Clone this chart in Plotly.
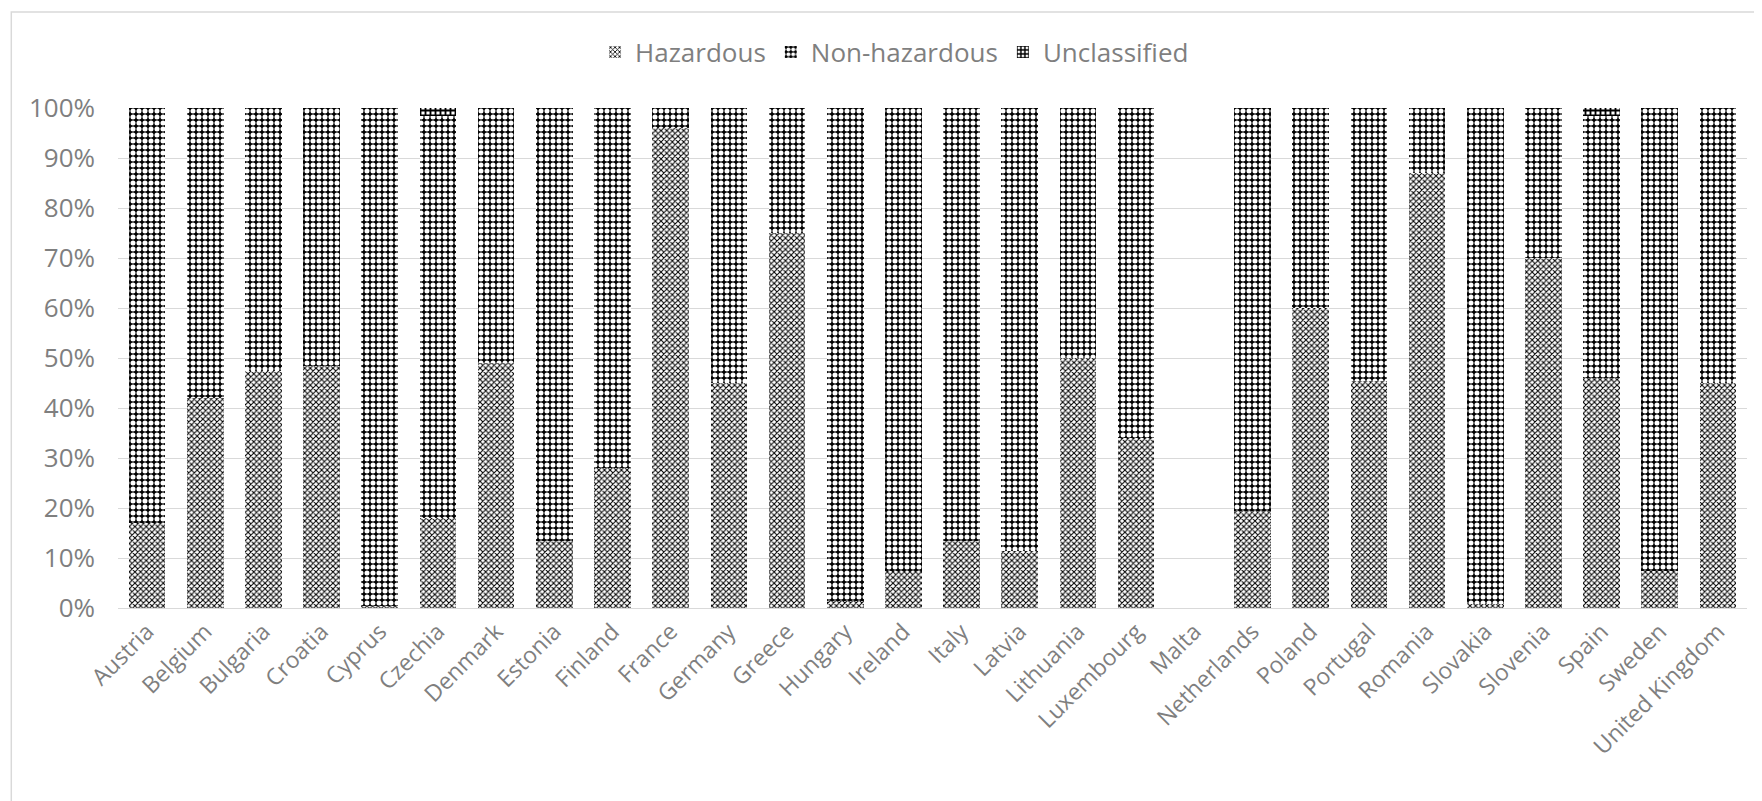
import plotly.graph_objects as go

countries = ["Austria", "Belgium", "Bulgaria", "Croatia", "Cyprus", "Czechia", "Denmark",
             "Estonia", "Finland", "France", "Germany", "Greece", "Hungary", "Ireland",
             "Italy", "Latvia", "Lithuania", "Luxembourg", "Malta", "Netherlands", "Poland",
             "Portugal", "Romania", "Slovakia", "Slovenia", "Spain", "Sweden", "United Kingdom"]

hazardous = [17, 42, 47.5, 48.5, 0.5, 18, 49, 13.5, 28, 96, 45, 75, 1.5, 7.5,
             13.5, 11.5, 50, 34, 0, 19.5, 60, 45.5, 87, 0.8, 70, 46, 7.5, 45]
non_hazardous = [83, 58, 52.5, 51.5, 99.5, 80.5, 51, 86.5, 72, 4, 55, 25, 98.5, 92.5,
                 86.5, 88.5, 50, 66, 0, 80.5, 40, 54.5, 13, 99.2, 30, 52.5, 92.5, 55]
unclassified = [0, 0, 0, 0, 0, 1.5, 0, 0, 0, 0, 0, 0, 0, 0,
                0, 0, 0, 0, 0, 0, 0, 0, 0, 0, 0, 1.5, 0, 0]

y_tick_vals = [0, 10, 20, 30, 40, 50, 60, 70, 80, 90, 100]
y_tick_text = ["0%", "10%", "20%", "30%", "40%", "50%", "60%", "70%", "80%", "90%", "100%"]

FONT = "Open Sans"
GRAY = "#7f7f7f"

fig = go.Figure()
fig.add_trace(go.Bar(
    name="Hazardous", x=countries, y=hazardous,
    marker=dict(color="white", line=dict(width=0),
                pattern=dict(shape="x", fgcolor="black", bgcolor="white",
                             size=4, solidity=0.45, fillmode="replace")),
))
fig.add_trace(go.Bar(
    name="Non-hazardous", x=countries, y=non_hazardous,
    marker=dict(color="black", line=dict(width=0),
                pattern=dict(shape=".", fgcolor="white", bgcolor="black",
                             size=6, solidity=0.55, fillmode="replace")),
))
fig.add_trace(go.Bar(
    name="Unclassified", x=countries, y=unclassified,
    marker=dict(color="black", line=dict(width=0),
                pattern=dict(shape="+", fgcolor="black", bgcolor="white",
                             size=5, solidity=0.6, fillmode="replace")),
))

fig.update_layout(
    barmode="stack",
    bargap=0.37,
    width=1762, height=801,
    margin=dict(l=110, r=23, t=100, b=201),
    paper_bgcolor="white", plot_bgcolor="white",
    font=dict(family=FONT, color=GRAY, size=23),
    showlegend=True,
    legend=dict(orientation="h", x=0.4767, xanchor="center", y=1.112, yanchor="middle",
                font=dict(family=FONT, size=26, color=GRAY), traceorder="normal",
                itemwidth=30),
    xaxis=dict(tickangle=-45, showgrid=False, showline=True, linecolor="#d9d9d9",
               linewidth=1, ticks="", automargin=False,
               tickfont=dict(family=FONT, size=23, color=GRAY)),
    yaxis=dict(range=[0, 100], tickmode="array", tickvals=y_tick_vals, ticktext=y_tick_text,
               showgrid=True, gridcolor="#d9d9d9", gridwidth=1, zeroline=False,
               showline=False, ticks="", automargin=False, ticklabelstandoff=22,
               tickfont=dict(family=FONT, size=26, color=GRAY)),
    shapes=[dict(type="rect", xref="paper", yref="paper",
                 x0=-0.0655, x1=1.03, y0=-0.45, y1=1.192,
                 line=dict(color="#d9d9d9", width=1.5), fillcolor="rgba(0,0,0,0)",
                 layer="below")],
)

fig.write_html("out.html")
